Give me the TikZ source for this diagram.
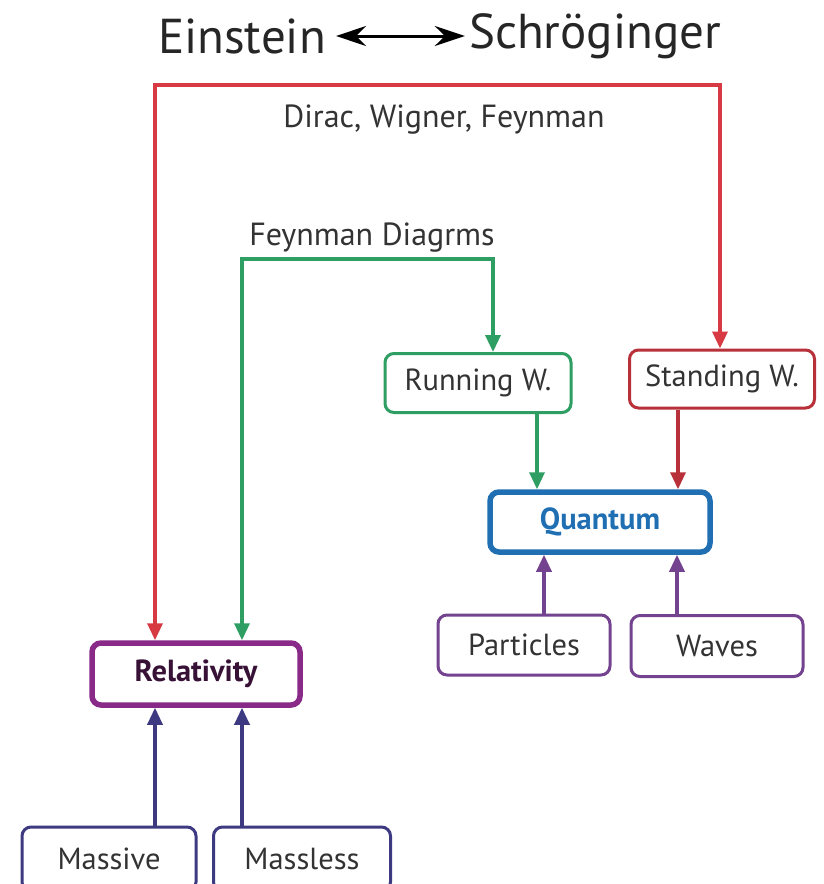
\documentclass[tikz,border=0pt]{standalone}
\usepackage{fontspec}
\setmainfont{PT Sans}
\usetikzlibrary{arrows.meta,calc}
\definecolor{cred}{HTML}{D83A44}
\definecolor{cgreen}{HTML}{2E9E62}
\definecolor{cblue}{HTML}{1F6FB2}
\definecolor{crel}{HTML}{8A2A88}
\definecolor{cnavy}{HTML}{3E3A82}
\definecolor{cpurp}{HTML}{74438F}
\definecolor{ctext}{HTML}{333333}
\tikzset{
  box/.style={draw, rounded corners=9pt, line width=3pt, minimum width=#1, inner sep=0pt, text=ctext, font=\fontsize{30.5}{33}\selectfont},
  lbl/.style={text=ctext, font=\fontsize{32}{35}\selectfont, inner sep=0pt},
  ttl/.style={inner sep=0pt, text=black!85, font=\fontsize{49}{54}\selectfont},
  conn/.style={line width=3.4pt, arrows={-Triangle[length=17pt,width=15pt]}},
  conn2/.style={line width=3.4pt, arrows={Triangle[length=17pt,width=15pt]-Triangle[length=17pt,width=15pt]}},
}
\begin{document}
\begin{tikzpicture}[x=1pt,y=-1pt]
\useasboundingbox (0,0) rectangle (823,884);
\clip (0,0) rectangle (823,884);
\fill[white] (0,0) rectangle (823,884);
% title
\node[ttl] (ein) at (242,36) {Einstein};
\node[ttl] (sch) at (595,36) {Schröginger};
\coordinate (t) at (0,36);
\draw[line width=3pt, arrows={Stealth[length=30pt,width=20pt,inset=10pt]-Stealth[length=30pt,width=20pt,inset=10pt]}] ([xshift=10pt]ein.east |- t) -- ([xshift=-4pt]sch.west |- t);
% boxes
\node[box=186pt, minimum height=59pt, draw=cgreen] (rw) at (478,383) {Running W.};
\node[box=185pt, minimum height=58pt, draw=cred!85!black] (sw) at (722,379) {Standing W.};
\node[box=220pt, minimum height=60pt, draw=cblue, line width=5.5pt, text=cblue, font=\fontsize{30.5}{33}\selectfont\bfseries] (q) at (600,522) {Quantum};
\node[box=172pt, minimum height=60pt, draw=cpurp] (pa) at (524,645) {Particles};
\node[box=172pt, minimum height=61pt, draw=cpurp] (wa) at (717,646) {Waves};
\node[box=208pt, minimum height=62pt, draw=crel, line width=5.5pt, text=crel!40!black, font=\fontsize{30.5}{33}\selectfont\bfseries] (rel) at (196,674) {Relativity};
\node[box=174pt, minimum height=64pt, draw=cnavy] (ma) at (109,859) {Massive};
\node[box=177pt, minimum height=64pt, draw=cnavy] (ml) at (302,859) {Massless};
% labels
\node[lbl] (dwf) at (444,120) {Dirac, Wigner, Feynman};
\node[lbl] (fd) at (372,238) {Feynman Diagrms};
% coordinates
\coordinate (r1) at (155,85);
\coordinate (r2) at (720,85);
\coordinate (g1) at (242,259);
\coordinate (g2) at (493,259);
\coordinate (xa) at (537,0);
\coordinate (xb) at (678,0);
\coordinate (xc) at (544,0);
\coordinate (xd) at (677,0);
% connectors
\draw[conn2, draw=cred] (r1 |- rel.north) -- (r1) -- (r2) -- (r2 |- sw.north);
\draw[conn2, draw=cgreen] (g1 |- rel.north) -- (g1) -- (g2) -- (g2 |- rw.north);
\draw[conn, draw=cgreen] (xa |- rw.south) -- (xa |- q.north);
\draw[conn, draw=cred!85!black] (xb |- sw.south) -- (xb |- q.north);
\draw[conn, draw=cpurp] (xc |- pa.north) -- (xc |- q.south);
\draw[conn, draw=cpurp] (xd |- wa.north) -- (xd |- q.south);
\draw[conn, draw=cnavy] (r1 |- ma.north) -- (r1 |- rel.south);
\draw[conn, draw=cnavy] (g1 |- ml.north) -- (g1 |- rel.south);
\end{tikzpicture}
\end{document}
